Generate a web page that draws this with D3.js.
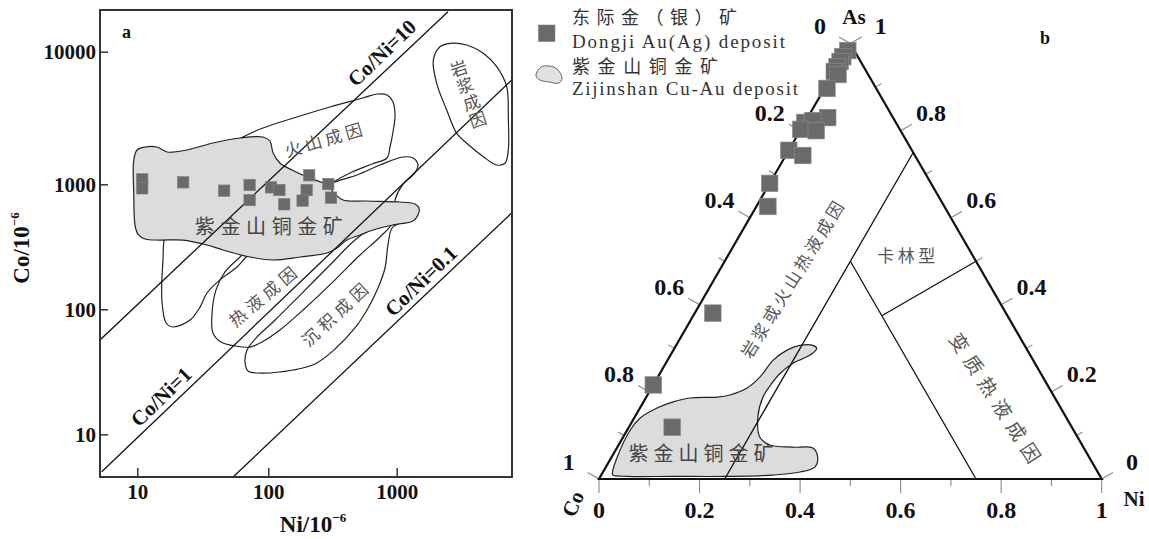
<!DOCTYPE html>
<html><head><meta charset="utf-8">
<script src="https://cdn.jsdelivr.net/npm/d3@7"></script>
<style>
body{margin:0;background:#fff;}
svg{display:block;}
</style></head>
<body><svg id="c" width="1149" height="539"></svg>
<script>
// ================= DATA =================
// ---- panel a : Co vs Ni (10^-6), log-log ----
const aTicksX = [10, 100, 1000];
const aTicksY = [10, 100, 1000, 10000];
// Dongji Au(Ag) samples
const dongjiNi = [10.9, 10.9, 22.4, 46, 72, 72, 105, 122, 133, 208, 199, 185, 293, 308];
const dongjiCo = [1091, 929, 1035, 889, 987, 748, 946, 900, 692, 1169, 900, 740, 1005, 782];
// Co/Ni reference lines (end points)
const ratioNames = ["Co/Ni=10", "Co/Ni=1", "Co/Ni=0.1"];
const ratioLineNi = [[5.19, 2508], [5.35, 7863], [53.8, 7863]];
const ratioLineCo = [[56.8, 20030], [5.02, 6117], [4.55, 590]];
const ratioLabelNi = [768, 15.2, 1545];
const ratioLabelCo = [9775, 19.9, 168];
// genetic fields
const zijinshanNi = [9.95,11.5,14.1,16.9,23.9,37.8,60.8,91,103,109,123,153,200,287,325,382,587,1061,1388,1492,1465,1340,936,654,518,410,343,287,177,109,72.5,45.1,34,22.3,14.9,11.5,10.1,9.6,9.4,9.4];
const zijinshanCo = [1815,1911,1911,1752,1815,2049,2235,2274,2121,1722,1447,1282,1135,987,852,749,735,722,696,646,568,509,473,431,393,358,309,282,262,248,262,298,327,358,358,365,400,473,821,1525];
const volcanicNi = [49.3,66.4,91.1,167,302,547,702,840,936,970,936,887,840,642,449,302,177,89.5,68.8,57.7,42.8,34,30.1,25.3,18.7,16.6,15.4,15.7,16.3,25.3];
const volcanicCo = [1944,2314,2658,3217,3828,4475,4797,4715,4176,3331,2480,1911,1579,1423,1238,1005,683,358,267,218,172,135,104,82.1,72.2,77.7,119,248,393,1078];
const hydroNi = [302,491,741,1120,1340,1465,1364,1120,970,936,741,518,331,193,123,89.5,72.5,55.7,43.5,37.8,37.2,39.9,46.7,60.8,103,177];
const hydroCo = [1005,1175,1398,1607,1579,1398,1196,1005,749,499,379,272,172,102,68.3,54.7,49.9,50.9,54.7,64.6,93.4,143,199,262,431,683];
const sedNi = [68.8,66.4,70,86.4,156,231,331,473,598,715,811,855,919,1061,970,741,473,302,177,113,80.6];
const sedCo = [47.2,37.9,32.1,30.9,32.7,36.5,48.1,70.9,102,148,214,327,447,499,568,499,358,226,130,82.1,58.9];
const magmaNi = [2174,2601,3510,4726,6008,7190,7399,7399,6975,6008,4726,3510,2934,2451,2049,1928];
const magmaCo = [10906,11570,11233,9725,7707,5445,3235,1815,1440,1398,1615,2038,2424,3634,5776,8657];
// field names and label anchors (Ni, Co)
const aFieldNames = ["火山成因", "紫金山铜金矿", "热液成因", "沉积成因"];
const aFieldNi = [267, 101, 89.5, 325];
const aFieldCo = [2195, 464, 128, 91.7];
const magmaName = "岩浆成因";
const magmaLabelNi = 3592, magmaLabelCo = 4881;

// ---- panel b : ternary Co - Ni - As ----
const ternTicks = [0,0.1,0.2,0.3,0.4,0.5,0.6,0.7,0.8,0.9,1];
const ternTickLabels = ["0","0.2","0.4","0.6","0.8","1"];
const ternAs = [0.984,0.970,0.959,0.947,0.936,0.929,0.897,0.830,0.819,0.823,0.803,0.800,0.755,0.743,0.679,0.626,0.381,0.216,0.119];
const ternNi = [0.003,0.0,0.0,0.0,0.0,0.011,0.005,0.040,0.0,0.014,0.0,0.032,0.0,0.034,0.0,0.023,0.036,0.0,0.086];
const zjTernAs = [0.013,0.051,0.112,0.140,0.163,0.177,0.186,0.188,0.193,0.209,0.234,0.273,0.296,0.307,0.307,0.300,0.284,0.266,0.243,0.220,0.188,0.142,0.096,0.078,0.073,0.071,0.050,0.028,0.016,0.009,0.006,0.006,0.006,0.009];
const zjTernNi = [0.020,0.011,0.006,0.012,0.034,0.059,0.088,0.141,0.164,0.190,0.203,0.210,0.226,0.246,0.272,0.283,0.277,0.253,0.239,0.234,0.232,0.245,0.272,0.301,0.349,0.390,0.410,0.416,0.392,0.342,0.252,0.144,0.053,0.023];
// field boundaries: [start, end] in (Ni, As)
const fieldLineNi = [[0.25, 0.25], [0.75, 0.25], [0.375, 0.5]];
const fieldLineAs = [[0, 0.75], [0, 0.5], [0.375, 0.5]];
const bFieldNames = ["卡林型", "变质热液成因", "岩浆或火山热液成因", "紫金山铜金矿"];
const bFieldNi = [0.353, 0.696, 0.153, 0.172];
const bFieldAs = [0.516, 0.188, 0.459, 0.062];

const legendNames = ["东际金（银）矿", "Dongji  Au(Ag) deposit", "紫金山铜金矿", "Zijinshan  Cu-Au deposit"];

// ================= DRAW =================
const svg = d3.select("#c");
const SERIF = "'Liberation Serif','Times New Roman',serif";
const CJK = "'Noto Sans CJK SC','Noto Sans CJK JP',sans-serif";
const zip = (a, b) => a.map((v, i) => [v, b[i]]);

// ---------- panel a ----------
const fa = {l: 100, r: 512, t: 10, b: 477};
const xA = d3.scaleLog().domain([10, 100, 1000]).range([137.3, 268.3, 396.7]);
const yA = d3.scaleLog().domain([10, 100, 1000, 10000]).range([434.3, 309.3, 184.3, 51.7]);

svg.append("clipPath").attr("id", "clipA").append("rect")
  .attr("x", fa.l).attr("y", fa.t).attr("width", fa.r - fa.l).attr("height", fa.b - fa.t);
const gA = svg.append("g");
const inA = gA.append("g").attr("clip-path", "url(#clipA)");

const polyLine = d3.line().x(d => xA(d[0])).y(d => yA(d[1])).curve(d3.curveCatmullRomClosed.alpha(0.5));
[[volcanicNi, volcanicCo], [hydroNi, hydroCo], [sedNi, sedCo], [magmaNi, magmaCo]].forEach(([n, c]) => {
  inA.append("path").attr("d", polyLine(zip(n, c)))
    .attr("fill", "none").attr("stroke", "#222").attr("stroke-width", 1.2);
});
inA.append("path").attr("d", polyLine(zip(zijinshanNi, zijinshanCo)))
  .attr("fill", "#dcdcdc").attr("stroke", "#222").attr("stroke-width", 1.2);

ratioLineNi.forEach((n, i) => {
  inA.append("line")
    .attr("x1", xA(n[0])).attr("y1", yA(ratioLineCo[i][0]))
    .attr("x2", xA(n[1])).attr("y2", yA(ratioLineCo[i][1]))
    .attr("stroke", "#111").attr("stroke-width", 1.3);
});

// field labels
const aRot = [-16.5, 0, -40, -43];
const aLen = [80, 148, 82, 83];
const aSize = [17, 20, 17, 17];
aFieldNames.forEach((t, i) => {
  const x = xA(aFieldNi[i]), y = yA(aFieldCo[i]);
  inA.append("text").text(t)
    .attr("transform", `translate(${x},${y}) rotate(${aRot[i]})`)
    .attr("text-anchor", "middle").attr("dominant-baseline", "central")
    .attr("textLength", aLen[i]).attr("lengthAdjust", "spacing")
    .style("font-family", CJK).style("font-size", aSize[i] + "px").attr("fill", i === 1 ? "#444" : "#555");
});
{
  const cx = xA(magmaLabelNi), cy = yA(magmaLabelCo);
  Array.from(magmaName).forEach((ch, i) => {
    const k = i - 1.5;
    inA.append("text").text(ch)
      .attr("transform", `translate(${cx + k * 6.3},${cy + k * 17}) rotate(-18)`)
      .attr("text-anchor", "middle").attr("dominant-baseline", "central")
      .style("font-family", CJK).style("font-size", "17px").attr("fill", "#555");
  });
}
// ratio labels
ratioNames.forEach((t, i) => {
  inA.append("text").text(t)
    .attr("transform", `translate(${xA(ratioLabelNi[i])},${yA(ratioLabelCo[i])}) rotate(-44)`)
    .attr("text-anchor", "middle").attr("dominant-baseline", "central")
    .style("font-family", SERIF).style("font-weight", "bold").style("font-size", "21px").attr("fill", "#111");
});

// Dongji points
const sqA = 11.5;
inA.selectAll("rect.pa").data(zip(dongjiNi, dongjiCo)).enter().append("rect")
  .attr("x", d => xA(d[0]) - sqA / 2).attr("y", d => yA(d[1]) - sqA / 2)
  .attr("width", sqA).attr("height", sqA)
  .attr("fill", "#6a6a6a").attr("stroke", "#858585").attr("stroke-width", 0.6);

// frame & axes
gA.append("rect").attr("x", fa.l).attr("y", fa.t).attr("width", fa.r - fa.l).attr("height", fa.b - fa.t)
  .attr("fill", "none").attr("stroke", "#333").attr("stroke-width", 2);
const axL = gA.append("g").attr("transform", `translate(${fa.l},0)`)
  .call(d3.axisLeft(yA).tickValues(aTicksY).tickFormat(d3.format("d")).tickSizeInner(-8).tickSizeOuter(0).tickPadding(4));
const axB = gA.append("g").attr("transform", `translate(0,${fa.b})`)
  .call(d3.axisBottom(xA).tickValues(aTicksX).tickFormat(d3.format("d")).tickSizeInner(-9).tickSizeOuter(0).tickPadding(7));
[axL, axB].forEach(ax => {
  ax.select(".domain").remove();
  ax.selectAll("line").attr("stroke", "#333").attr("stroke-width", 1.5);
  ax.selectAll("text").style("font-family", SERIF).style("font-weight", "bold").style("font-size", "21px").attr("fill", "#111");
});
// axis titles
const yt = gA.append("text").attr("transform", "translate(29,248) rotate(-90)")
  .attr("text-anchor", "middle").style("font-family", SERIF).style("font-weight", "bold").style("font-size", "23px").attr("fill", "#111");
yt.append("tspan").text("Co/10");
yt.append("tspan").text("−6").attr("dy", -10).style("font-size", "13px");
const xt = gA.append("text").attr("x", 313).attr("y", 532)
  .attr("text-anchor", "middle").style("font-family", SERIF).style("font-weight", "bold").style("font-size", "23px").attr("fill", "#111");
xt.append("tspan").text("Ni/10");
xt.append("tspan").text("−6").attr("dy", -10).style("font-size", "13px");
gA.append("text").text("a").attr("x", 122).attr("y", 38)
  .style("font-family", SERIF).style("font-weight", "bold").style("font-size", "18px").attr("fill", "#111");

// ---------- legend ----------
const gL = svg.append("g");
gL.append("rect").attr("x", 538.4).attr("y", 25).attr("width", 16.6).attr("height", 16.6)
  .attr("fill", "#6a6a6a").attr("stroke", "#858585").attr("stroke-width", 0.6);
{
  const blob = [[-12,-3],[-8,-8],[0,-9],[8,-6],[13,3],[10,8],[0,7],[-9,5],[-13,1]];
  gL.append("path").attr("transform", "translate(549,75)")
    .attr("d", d3.line().curve(d3.curveCatmullRomClosed.alpha(0.5))(blob))
    .attr("fill", "#e2e2e2").attr("stroke", "#666").attr("stroke-width", 1);
}
const legY = [24, 47.5, 73, 95.3];
const legLen = [165, 213, 146, 226];
legendNames.forEach((t, i) => {
  gL.append("text").text(t).attr("x", 572).attr("y", legY[i])
    .attr("textLength", legLen[i]).attr("lengthAdjust", "spacing")
    .style("font-family", i % 2 === 0 ? CJK : SERIF).style("font-size", i % 2 === 0 ? "18px" : "19px")
    .attr("fill", "#333");
});

// ---------- panel b : ternary ----------
const bx = d3.scaleLinear().domain([0, 1]).range([599, 1101.7]);
const by = d3.scaleLinear().domain([0, 1]).range([479, 43.6]);
const P = (ni, as) => [bx(ni + as / 2), by(as)];
const gB = svg.append("g");

const ternLine = d3.line().x(d => P(d[0], d[1])[0]).y(d => P(d[0], d[1])[1]);
gB.append("path").attr("d", ternLine.curve(d3.curveCatmullRomClosed.alpha(0.5))(zip(zjTernNi, zjTernAs)))
  .attr("fill", "#dcdcdc").attr("stroke", "#222").attr("stroke-width", 1.2);

fieldLineNi.forEach((n, i) => {
  const a = P(n[0], fieldLineAs[i][0]), b = P(n[1], fieldLineAs[i][1]);
  gB.append("line").attr("x1", a[0]).attr("y1", a[1]).attr("x2", b[0]).attr("y2", b[1])
    .attr("stroke", "#111").attr("stroke-width", 1.3);
});

// ticks
const s3 = Math.sqrt(3) / 2;
const ticks = [];
ternTicks.forEach((t, i) => {
  const major = i % 2 === 0;
  const lab = major ? ternTickLabels[i / 2] : null;
  ticks.push({p: P(t, 0), d: [0, 1], len: major ? 14 : 7, lab, off: 31});
  ticks.push({p: P(0, 1 - t), d: [-s3, -0.5], len: major ? 13 : 7, lab, off: 35});
  ticks.push({p: P(1 - t, t), d: [s3, -0.5], len: major ? 13 : 7, lab, off: 35});
});
gB.selectAll("line.tk").data(ticks).enter().append("line")
  .attr("x1", d => d.p[0]).attr("y1", d => d.p[1])
  .attr("x2", d => d.p[0] + d.d[0] * d.len).attr("y2", d => d.p[1] + d.d[1] * d.len)
  .attr("stroke", "#8a8a8a").attr("stroke-width", 1.1);
gB.selectAll("text.tl").data(ticks.filter(d => d.lab)).enter().append("text")
  .text(d => d.lab)
  .attr("x", d => d.p[0] + d.d[0] * d.off).attr("y", d => d.p[1] + d.d[1] * d.off)
  .attr("text-anchor", "middle").attr("dominant-baseline", "central")
  .style("font-family", SERIF).style("font-weight", "bold").style("font-size", "24px").attr("fill", "#111");

// triangle
gB.append("path").attr("d", d3.line()([P(0, 0), P(1, 0), P(0, 1)]) + "Z")
  .attr("fill", "none").attr("stroke", "#111").attr("stroke-width", 2.2).attr("stroke-linejoin", "miter");

// field labels
const bRot = [0, 57, -58.5, 0];
const bLen = [58, 150, 180, 145];
const bSize = [17, 19, 17, 20];
bFieldNames.forEach((t, i) => {
  const p = P(bFieldNi[i], bFieldAs[i]);
  gB.append("text").text(t)
    .attr("transform", `translate(${p[0]},${p[1]}) rotate(${bRot[i]})`)
    .attr("text-anchor", "middle").attr("dominant-baseline", "central")
    .attr("textLength", bLen[i]).attr("lengthAdjust", "spacing")
    .style("font-family", CJK).style("font-size", bSize[i] + "px").attr("fill", i === 3 ? "#444" : "#555");
});

// points
const sqB = 16.5;
gB.selectAll("rect.pb").data(zip(ternNi, ternAs)).enter().append("rect")
  .attr("x", d => P(d[0], d[1])[0] - sqB / 2).attr("y", d => P(d[0], d[1])[1] - sqB / 2)
  .attr("width", sqB).attr("height", sqB)
  .attr("fill", "#6a6a6a").attr("stroke", "#8a8a8a").attr("stroke-width", 0.7);

// vertex labels
const vStyle = sel => sel.attr("text-anchor", "middle").attr("dominant-baseline", "central")
  .style("font-family", SERIF).style("font-weight", "bold").style("font-size", "21px").attr("fill", "#111");
gB.append("text").text("As").attr("x", 854).attr("y", 17).call(vStyle);
gB.append("text").text("Ni").attr("x", 1134).attr("y", 499).call(vStyle);
gB.append("text").text("Co").attr("transform", "translate(573,504) rotate(-65)").call(vStyle);
gB.append("text").text("b").attr("x", 1040).attr("y", 44)
  .style("font-family", SERIF).style("font-weight", "bold").style("font-size", "18px").attr("fill", "#111");
</script>
</body></html>
